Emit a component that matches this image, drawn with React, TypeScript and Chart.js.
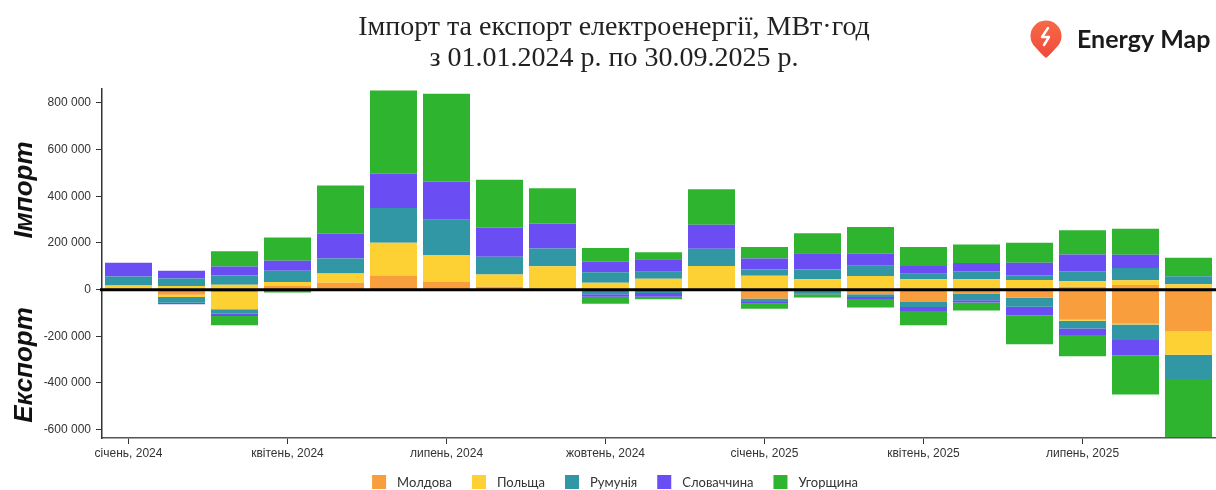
import React, { useEffect, useRef } from 'react';
import { Chart, registerables } from 'chart.js';

Chart.register(...registerables);

const categories = [
  'січень, 2024', 'лютий, 2024', 'березень, 2024', 'квітень, 2024', 'травень, 2024', 'червень, 2024',
  'липень, 2024', 'серпень, 2024', 'вересень, 2024', 'жовтень, 2024', 'листопад, 2024', 'грудень, 2024',
  'січень, 2025', 'лютий, 2025', 'березень, 2025', 'квітень, 2025', 'травень, 2025', 'червень, 2025',
  'липень, 2025', 'серпень, 2025', 'вересень, 2025',
];

const axisLabels = [
  'січень, 2024', '', '', 'квітень, 2024', '', '', 'липень, 2024', '', '', 'жовтень, 2024', '', '',
  'січень, 2025', '', '', 'квітень, 2025', '', '', 'липень, 2025', '', '',
];

const yTickValues = [-600000, -400000, -200000, 0, 200000, 400000, 600000, 800000];

const countries = ['Молдова', 'Польща', 'Румунія', 'Словаччина', 'Угорщина'];
const colors = ['#F99E3C', '#FDD034', '#3297A4', '#6B4DF4', '#2FB42F'];

// Import, MWh
const importMoldova = [3000, 2000, 3000, 18000, 30000, 61000, 33000, 12000, 2000, 2000, 0, 0, 0, 0, 3000, 2000, 2000, 3000, 12000, 20000, 5000];
const importPoland = [15000, 14000, 18000, 15000, 39000, 140000, 115000, 53000, 98000, 28000, 47000, 101000, 59000, 45000, 55000, 42000, 42000, 38000, 24000, 20000, 18000];
const importRomania = [38000, 32000, 40000, 48000, 64000, 149000, 152000, 76000, 76000, 45000, 30000, 74000, 27000, 41000, 44000, 24000, 35000, 21000, 43000, 53000, 34000];
const importSlovakia = [59000, 33000, 38000, 43000, 108000, 147000, 164000, 125000, 107000, 44000, 53000, 103000, 47000, 70000, 52000, 33000, 35000, 53000, 72000, 57000, 0];
const importHungary = [0, 0, 66000, 99000, 205000, 357000, 376000, 205000, 152000, 59000, 30000, 152000, 50000, 86000, 114000, 82000, 79000, 86000, 104000, 111000, 80000];

// Export, MWh (shown below zero)
const exportMoldova = [0, 22000, 10000, 3000, 0, 0, 0, 0, 0, 0, 0, 0, 38000, 6000, 20000, 53000, 17000, 35000, 129000, 146000, 180000];
const exportPoland = [0, 10000, 74000, 0, 0, 0, 0, 0, 0, 0, 2000, 0, 0, 0, 0, 0, 0, 0, 4000, 4000, 99000];
const exportRomania = [0, 24000, 19000, 0, 0, 0, 0, 0, 0, 20000, 12000, 0, 15000, 10000, 12000, 21000, 28000, 38000, 34000, 66000, 104000];
const exportSlovakia = [0, 7000, 10000, 0, 0, 0, 0, 0, 0, 11000, 16000, 0, 7000, 4000, 8000, 18000, 10000, 38000, 28000, 66000, 0];
const exportHungary = [0, 0, 40000, 9000, 0, 0, 0, 0, 0, 29000, 11000, 0, 22000, 14000, 37000, 61000, 35000, 123000, 91000, 168000, 249000];

const importSeries = [importMoldova, importPoland, importRomania, importSlovakia, importHungary];
const exportSeries = [exportMoldova, exportPoland, exportRomania, exportSlovakia, exportHungary];

const titleLines = ['Імпорт та експорт електроенергії, МВт·год', 'з 01.01.2024 р. по 30.09.2025 р.'];

const fmt = (v: number) => {
  const s = Math.abs(v).toString().replace(/\B(?=(\d{3})+(?!\d))/g, ' ');
  return (v < 0 ? '-' : '') + s;
};

const overlay = {
  id: 'overlay',
  afterDatasetsDraw(chart: any) {
    const { ctx, chartArea, scales } = chart;
    const y0 = scales.y.getPixelForValue(0);
    ctx.save();
    ctx.strokeStyle = '#000';
    ctx.lineWidth = 3;
    ctx.beginPath();
    ctx.moveTo(chartArea.left - 2, y0);
    ctx.lineTo(chart.width, y0);
    ctx.stroke();
    ctx.restore();
  },
  afterDraw(chart: any) {
    const { ctx } = chart;
    ctx.save();
    // Title
    ctx.fillStyle = '#222';
    ctx.textAlign = 'center';
    ctx.textBaseline = 'alphabetic';
    ctx.font = '28px "Liberation Serif", serif';
    ctx.fillText(titleLines[0], 614, 35);
    ctx.fillText(titleLines[1], 614, 66);

    // Logo pin
    const cx = 1046, cy = 36, r = 15.5, tipY = 58;
    const th = 0.75;
    const grad = ctx.createLinearGradient(0, 20, 0, 58);
    grad.addColorStop(0, '#F86A48');
    grad.addColorStop(1, '#EE4A3A');
    ctx.fillStyle = grad;
    ctx.beginPath();
    ctx.arc(cx, cy, r, Math.PI / 2 + th, Math.PI / 2 - th + Math.PI * 2);
    ctx.quadraticCurveTo(cx + 3, tipY - 2, cx, tipY);
    ctx.quadraticCurveTo(cx - 3, tipY - 2, cx + r * Math.cos(Math.PI / 2 + th), cy + r * Math.sin(Math.PI / 2 + th));
    ctx.closePath();
    ctx.fill();
    ctx.strokeStyle = '#fff';
    ctx.lineWidth = 2.4;
    ctx.lineCap = 'round';
    ctx.lineJoin = 'round';
    ctx.beginPath();
    ctx.moveTo(cx + 2, cy - 8);
    ctx.lineTo(cx - 4, cy + 1);
    ctx.lineTo(cx + 3, cy + 1);
    ctx.lineTo(cx - 2, cy + 9);
    ctx.stroke();

    ctx.fillStyle = '#1b1b1b';
    ctx.textAlign = 'left';
    ctx.font = 'bold 25px Lato, sans-serif';
    ctx.fillText('Energy Map', 1077, 48);

    // Axis side titles
    ctx.font = 'italic bold 26px "Liberation Sans", Arial, sans-serif';
    ctx.fillStyle = '#111';
    ctx.textAlign = 'center';
    ctx.textBaseline = 'middle';
    ctx.save();
    ctx.translate(25, 190);
    ctx.rotate(-Math.PI / 2);
    ctx.fillText('Імпорт', 0, 0);
    ctx.restore();
    ctx.save();
    ctx.translate(25, 365);
    ctx.rotate(-Math.PI / 2);
    ctx.fillText('Експорт', 0, 0);
    ctx.restore();

    // Legend
    ctx.font = '13px Lato, sans-serif';
    ctx.textAlign = 'left';
    ctx.textBaseline = 'middle';
    const box = 14, gapText = 11, gapItem = 20;
    const widths = countries.map((c) => ctx.measureText(c).width);
    const total = widths.reduce((a, w) => a + box + gapText + w, 0) + gapItem * (countries.length - 1);
    let x = 615 - total / 2;
    countries.forEach((c, i) => {
      ctx.fillStyle = colors[i];
      ctx.fillRect(x, 475, box, box);
      ctx.fillStyle = '#333';
      ctx.fillText(c, x + box + gapText, 483);
      x += box + gapText + widths[i] + gapItem;
    });
    ctx.restore();
  },
};

export default function App() {
  const ref = useRef<HTMLCanvasElement | null>(null);
  useEffect(() => {
    if (!ref.current) return;
    const datasets: any[] = [];
    importSeries.forEach((d, i) => {
      datasets.push({ label: countries[i], data: d, backgroundColor: colors[i], stack: 's', borderWidth: 0 });
    });
    exportSeries.forEach((d, i) => {
      datasets.push({ label: countries[i] + ' (експорт)', data: d.map((v) => -v), backgroundColor: colors[i], stack: 's', borderWidth: 0 });
    });
    const chart = new Chart(ref.current, {
      type: 'bar',
      data: { labels: categories, datasets },
      options: {
        responsive: false,
        animation: false,
        devicePixelRatio: 1,
        layout: { padding: { top: 89, left: 0, right: 1, bottom: 0 } },
        datasets: { bar: { categoryPercentage: 0.887, barPercentage: 1 } },
        plugins: { legend: { display: false }, tooltip: { enabled: false }, title: { display: false } },
        scales: {
          x: {
            stacked: true,
            offset: true,
            afterFit: (s: any) => { s.height = 52; },
            grid: {
              display: true,
              drawOnChartArea: false,
              offset: false,
              tickLength: 6,
              color: (c: any) => (axisLabels[c.index] ? '#333' : 'rgba(0,0,0,0)'),
            },
            border: { display: true, color: '#555', width: 1.5 },
            ticks: {
              autoSkip: false,
              maxRotation: 0,
              padding: 2,
              color: '#333',
              font: { family: '"Liberation Sans", Arial, sans-serif', size: 12 },
              callback: (_v: any, i: number) => axisLabels[i],
            },
          },
          y: {
            stacked: true,
            min: -636000,
            max: 860000,
            afterFit: (s: any) => { s.width = 102; },
            afterBuildTicks: (s: any) => { s.ticks = yTickValues.map((v) => ({ value: v })); },
            grid: { display: true, drawOnChartArea: false, tickLength: 6, color: '#333', tickWidth: 1 },
            border: { display: true, color: '#333', width: 1.5 },
            ticks: {
              padding: 5,
              color: '#333',
              font: { family: '"Liberation Sans", Arial, sans-serif', size: 12 },
              callback: (v: any) => fmt(Number(v)),
            },
          },
        },
      },
      plugins: [overlay],
    });
    return () => chart.destroy();
  }, []);
  return (
    <div style={{ position: 'fixed', left: 0, top: 0, width: 1216, height: 490, background: '#fff' }}>
      <canvas ref={ref} width={1216} height={490} style={{ display: 'block' }} />
    </div>
  );
}
